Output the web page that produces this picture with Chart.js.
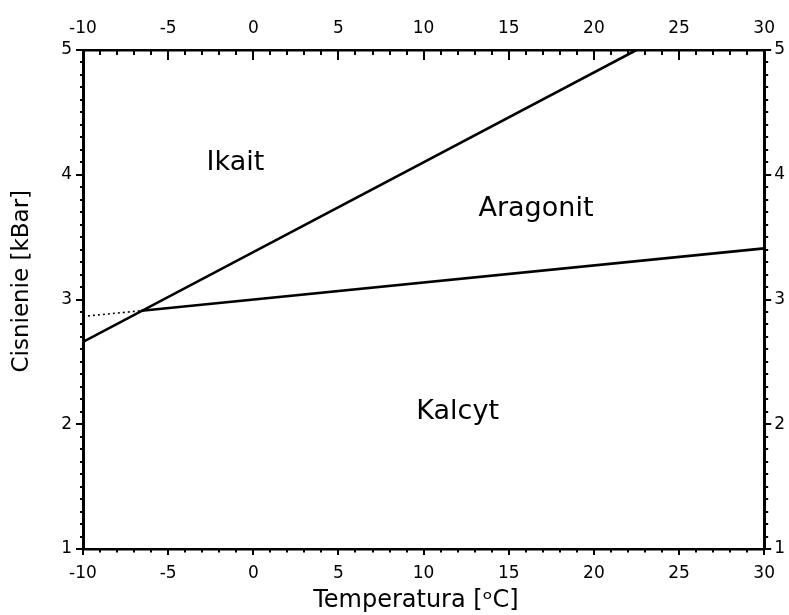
<!DOCTYPE html>
<html>
<head>
<meta charset="utf-8">
<script src="https://cdn.jsdelivr.net/npm/chart.js@4/dist/chart.umd.min.js"></script>
<style>
  html, body { margin: 0; padding: 0; background: #ffffff; }
  #wrap { width: 789px; height: 615px; }
</style>
</head>
<body>
<div id="wrap"><canvas id="c"></canvas></div>
<script>
// ---- data ----
const xTickValues = [-10, -5, 0, 5, 10, 15, 20, 25, 30];
const yTickValues = [1, 2, 3, 4, 5];

// boundary Ikait / Aragonit
const ikaitAragonitX = [-10, 22.5];
const ikaitAragonitY = [2.66, 5.0];
// boundary Aragonit / Kalcyt
const aragonitKalcytX = [-6.56, 30];
const aragonitKalcytY = [2.91, 3.41];
// dotted (metastable) extension
const metastableX = [-10, -6.56];
const metastableY = [2.865, 2.91];

// field names and where they sit (data coordinates)
const regionNames = ['Ikait', 'Aragonit', 'Kalcyt'];
const regionX = [-1.05, 16.6, 12.0];
const regionY = [4.12, 3.75, 2.12];

const FONT = 'DejaVu Sans';

function pts(xs, ys) { return xs.map((v, i) => ({ x: v, y: ys[i] })); }

const tickMarks = {
  id: 'tickMarks',
  afterDraw(chart) {
    const ctx = chart.ctx;
    const { x, x2, y, y2 } = chart.scales;
    ctx.save();
    ctx.strokeStyle = '#000';
    ctx.lineWidth = 2;
    const seg = (a, b, c, d) => { ctx.beginPath(); ctx.moveTo(a, b); ctx.lineTo(c, d); ctx.stroke(); };
    for (let i = x.min; i <= x.max; i++) {
      const major = i % 5 === 0;
      const px = Math.round(x.getPixelForValue(i));
      seg(px, x.top, px, x.top + (major ? 6 : 3.5));
      seg(px, x2.bottom, px, x2.bottom + (major ? 10 : 5));
    }
    for (let k = y.min * 10; k <= y.max * 10; k++) {
      const major = k % 10 === 0;
      const py = Math.round(y.getPixelForValue(k / 10));
      seg(y.right, py, y.right - (major ? 7 : 3), py);
      seg(y2.left, py, y2.left + (major ? 7 : 4), py);
    }
    ctx.restore();
  }
};

const regionLabels = {
  id: 'regionLabels',
  afterDatasetsDraw(chart) {
    const ctx = chart.ctx;
    const { x, y } = chart.scales;
    const size = 27;
    ctx.save();
    ctx.fillStyle = '#000';
    ctx.font = size + 'px "' + FONT + '"';
    ctx.textAlign = 'center';
    ctx.textBaseline = 'alphabetic';
    regionNames.forEach((name, i) => {
      const px = x.getPixelForValue(regionX[i]);
      const py = y.getPixelForValue(regionY[i]) + size * 0.729 / 2;
      ctx.fillText(name, px, py);
    });
    ctx.restore();
  }
};

const tickFont = { family: FONT, size: 17 };
const xBorder = { display: true, color: '#000', width: 2.5 };
const yBorder = { display: true, color: '#000', width: 3 };
const noGrid = { display: false, drawTicks: false };

new Chart(document.getElementById('c'), {
  type: 'scatter',
  data: {
    datasets: [
      { data: pts(ikaitAragonitX, ikaitAragonitY), showLine: true, borderColor: '#000', borderWidth: 2.6, pointRadius: 0, xAxisID: 'x', yAxisID: 'y' },
      { data: pts(aragonitKalcytX, aragonitKalcytY), showLine: true, borderColor: '#000', borderWidth: 2.6, pointRadius: 0, xAxisID: 'x', yAxisID: 'y' },
      { data: pts(metastableX, metastableY), showLine: true, borderColor: '#000', borderWidth: 1.6, borderDash: [2, 3], pointRadius: 0, xAxisID: 'x', yAxisID: 'y' }
    ]
  },
  options: {
    responsive: true,
    maintainAspectRatio: false,
    animation: false,
    layout: { padding: 0 },
    plugins: { legend: { display: false }, tooltip: { enabled: false } },
    scales: {
      x: {
        type: 'linear', position: 'bottom', min: -10, max: 30,
        afterBuildTicks(s) { s.ticks = xTickValues.map(v => ({ value: v })); },
        ticks: { font: tickFont, color: '#000', padding: 14, maxRotation: 0 },
        grid: noGrid, border: xBorder,
        title: { display: true, text: 'Temperatura [ᵒC]  ', font: { family: FONT, size: 24 }, color: '#000', padding: { top: 0, bottom: 0 } },
        afterFit(s) { s.height = 66; }
      },
      x2: {
        type: 'linear', position: 'top', min: -10, max: 30,
        afterBuildTicks(s) { s.ticks = xTickValues.map(v => ({ value: v })); },
        ticks: { font: tickFont, color: '#000', padding: 11, maxRotation: 0 },
        grid: noGrid, border: xBorder,
        afterFit(s) { s.height = 50; }
      },
      y: {
        type: 'linear', position: 'left', min: 1, max: 5,
        afterBuildTicks(s) { s.ticks = yTickValues.map(v => ({ value: v })); },
        ticks: { font: tickFont, color: '#000', padding: 11 },
        grid: noGrid, border: yBorder,
        title: { display: true, text: '     Cisnienie [kBar]', font: { family: FONT, size: 23 }, color: '#000', padding: { top: 8, bottom: 0 } },
        afterFit(s) { s.width = 83; }
      },
      y2: {
        type: 'linear', position: 'right', min: 1, max: 5,
        afterBuildTicks(s) { s.ticks = yTickValues.map(v => ({ value: v })); },
        ticks: { font: tickFont, color: '#000', padding: 10 },
        grid: noGrid, border: yBorder,
        afterFit(s) { s.width = 23; }
      }
    }
  },
  plugins: [tickMarks, regionLabels]
});
</script>
</body>
</html>
